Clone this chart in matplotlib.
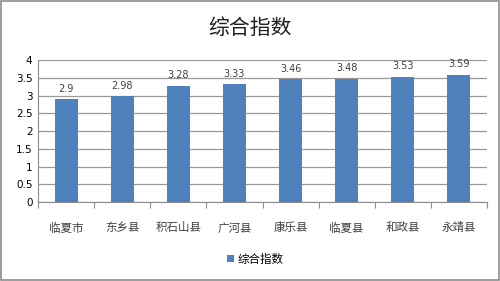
import matplotlib
matplotlib.use("Agg")
import matplotlib.pyplot as plt
from matplotlib.patches import Rectangle

plt.rcParams['font.family'] = ['Noto Sans CJK SC', 'DejaVu Sans']

categories = ["临夏市", "东乡县", "积石山县", "广河县", "康乐县", "临夏县", "和政县", "永靖县"]
values = [2.9, 2.98, 3.28, 3.33, 3.46, 3.48, 3.53, 3.59]
yticks = [0, 0.5, 1, 1.5, 2, 2.5, 3, 3.5, 4]
yticklabels = ["0", "0.5", "1", "1.5", "2", "2.5", "3", "3.5", "4"]
title = "综合指数"
series_name = "综合指数"

fig = plt.figure(figsize=(5, 2.81), dpi=100)
fig.patches.append(Rectangle((0.002, 0.003), 0.995, 0.993, transform=fig.transFigure,
                             fill=False, edgecolor="#8c8c8c", linewidth=1.2))
ax = fig.add_axes([0.076, 0.281, 0.898, 0.505])

x = list(range(len(categories)))
bars = ax.bar(x, values, width=0.41, color="#4F81BD", label=series_name, zorder=3)
for xi, v in zip(x, values):
    ax.text(xi, v + 0.15, f"{v:g}", ha="center", va="bottom", fontsize=7, color="#404040",
            family="DejaVu Sans")

ax.set_xlim(-0.5, len(categories) - 0.5)
ax.set_ylim(0, 4)
ax.set_yticks(yticks)
ax.set_yticklabels(yticklabels, fontsize=7.5, family="DejaVu Sans")
ax.yaxis.grid(True, color="#9a9a9a", linewidth=0.9, zorder=0)
ax.set_axisbelow(True)
ax.tick_params(axis="y", length=0, pad=4)

ax.set_xticks([i + 0.5 for i in range(-1, len(categories))], minor=False)
ax.set_xticklabels([])
ax.tick_params(axis="x", length=4, color="#8c8c8c", direction="out")
ax.set_xticks(x, minor=True)
ax.set_xticklabels(categories, minor=True, fontsize=8.3, color="#404040")
ax.tick_params(axis="x", which="minor", length=0, pad=14)

for s in ["top", "right"]:
    ax.spines[s].set_visible(False)
ax.spines["left"].set_color("#8c8c8c")
ax.spines["bottom"].set_color("#8c8c8c")

fig.text(0.5, 0.9, title, ha="center", va="center", fontsize=15, color="#202020")
fig.legend(handles=[bars], labels=[series_name], loc="center", bbox_to_anchor=(0.51, 0.078),
           frameon=False, fontsize=8.3, handlelength=0.6, handleheight=0.6, handletextpad=0.3)

fig.savefig("out.png", dpi=100)
